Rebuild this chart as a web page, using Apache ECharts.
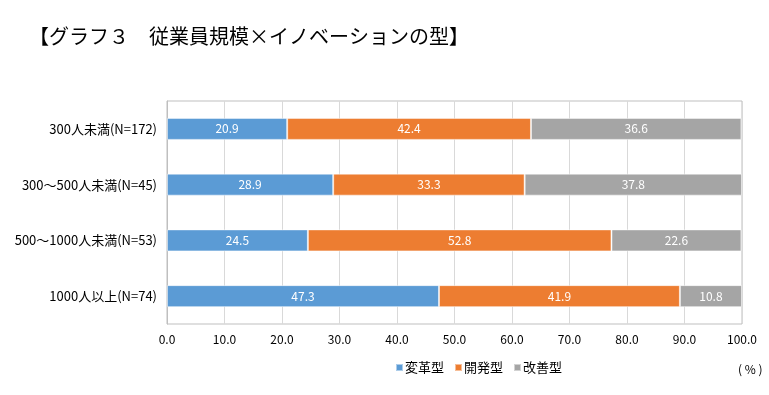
<!DOCTYPE html>
<html><head><meta charset="utf-8">
<script src="https://cdn.jsdelivr.net/npm/echarts@6/dist/echarts.min.js"></script>
<style>html,body{margin:0;padding:0;background:#fff}#c{width:769px;height:395px}</style>
</head><body><div id="c"></div>
<script>
const categories = ['300人未満(N=172)', '300～500人未満(N=45)', '500～1000人未満(N=53)', '1000人以上(N=74)'];
const henkaku = [20.9, 28.9, 24.5, 47.3];
const kaihatsu = [42.4, 33.3, 52.8, 41.9];
const kaizen = [36.6, 37.8, 22.6, 10.8];
const seriesNames = ['変革型', '開発型', '改善型'];
const colors = ['#5b9bd5', '#ed7d31', '#a5a5a5'];
const font = '"Noto Sans CJK JP", sans-serif';

const chart = echarts.init(document.getElementById('c'), null, {renderer: 'canvas'});
const mk = (name, data, color) => ({
  name, type: 'bar', stack: 'a', data, barWidth: 22,
  itemStyle: {color, borderColor: 'rgba(255,255,255,0.5)', borderWidth: 1},
  label: {show: true, position: 'inside', color: '#fff', fontSize: 12, fontFamily: font,
    formatter: p => p.value.toFixed(1)},
  emphasis: {disabled: true}
});
chart.setOption({
  animation: false,
  title: {text: '【グラフ３　従業員規模×イノベーションの型】', left: 24, top: 21,
    textStyle: {fontSize: 20, fontWeight: 'normal', color: '#000', fontFamily: font}},
  grid: {left: 167, right: 27, top: 101, bottom: 71, containLabel: false},
  legend: {data: seriesNames, left: 390, top: 356, itemWidth: 7, itemHeight: 7, itemGap: 10,
    icon: 'rect', textStyle: {fontSize: 13, color: '#000', fontFamily: font, padding: [0,0,0,-3]}},
  xAxis: {type: 'value', min: 0, max: 100, interval: 10,
    axisLabel: {formatter: v => v.toFixed(1), color: '#000', fontSize: 12, fontFamily: font, margin: 9},
    axisLine: {show: false}, axisTick: {show: false},
    splitLine: {show: true, lineStyle: {color: '#d9d9d9'}}},
  yAxis: {type: 'category', data: categories, inverse: true,
    axisLabel: {color: '#000', fontSize: 13, fontFamily: font, margin: 10},
    axisLine: {show: true, lineStyle: {color: '#bfbfbf'}}, axisTick: {show: false}},
  graphic: [
    {type: 'rect', shape: {x: 167, y: 101, width: 575, height: 223}, style: {fill: 'none', stroke: '#bfbfbf', lineWidth: 1}, silent: true},
    {type: 'text', left: 738, top: 363, style: {text: '( % )', fill: '#000', font: '12px ' + font}}
  ],
  series: [mk(seriesNames[0], henkaku, colors[0]), mk(seriesNames[1], kaihatsu, colors[1]), mk(seriesNames[2], kaizen, colors[2])]
});
</script></body></html>
